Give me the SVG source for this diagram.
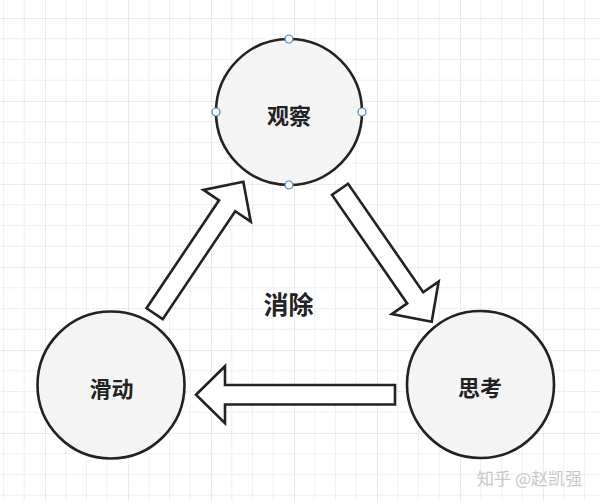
<svg xmlns="http://www.w3.org/2000/svg" width="600" height="501" viewBox="0 0 600 501">
  <style>
    .node circle.body { fill: #f4f4f4; stroke: #222; stroke-width: 2.6; }
    .label { font-family: "Noto Sans CJK SC", "Noto Sans", sans-serif; font-weight: bold; fill: #222; text-anchor: middle; dominant-baseline: central; }
    .arrow { fill: #ffffff; stroke: #222; stroke-width: 2.6; stroke-linejoin: miter; }
    .handle { fill: #ffffff; stroke: #3d85c6; stroke-width: 1.2; }
    .wm { font-family: "Noto Sans CJK SC", "Noto Sans", sans-serif; fill: #c8c8c8; font-size: 17px; text-anchor: end; }
  </style>
  <defs>
    <pattern id="grid" patternUnits="userSpaceOnUse" x="45" y="18" width="83" height="83">
      <rect x="0" y="0" width="83" height="83" fill="#ffffff"/>
      <g fill="#f0f0f0">
        <rect x="20.25" y="0" width="1" height="83"/>
        <rect x="41" y="0" width="1" height="83"/>
        <rect x="61.75" y="0" width="1" height="83"/>
        <rect x="0" y="20.25" width="83" height="1"/>
        <rect x="0" y="41" width="83" height="1"/>
        <rect x="0" y="61.75" width="83" height="1"/>
      </g>
      <g fill="#e3e3e3">
        <rect x="-0.5" y="0" width="1.2" height="83"/>
        <rect x="0" y="-0.5" width="83" height="1.2"/>
      </g>
    </pattern>
  </defs>

  <rect width="600" height="501" fill="url(#grid)"/>

  <g id="connectors">
    <polygon class="arrow" transform="translate(196,394.7)" points="0,0 29,-28.5 29,-9.75 199,-9.75 199,9.75 29,9.75 29,28.5"/>
    <polygon class="arrow" transform="translate(243.3,181.7) rotate(123.9)" points="0,0 29,-28.5 29,-9.75 159,-9.75 159,9.75 29,9.75 29,28.5"/>
    <polygon class="arrow" transform="translate(431.7,321.7) rotate(-124.7)" points="0,0 29,-28.5 29,-9.75 161,-9.75 161,9.75 29,9.75 29,28.5"/>
  </g>

  <g id="node-observe" class="node">
    <circle class="body" cx="289" cy="112" r="73"/>
    <text class="label" x="289" y="114" font-size="22">观察</text>
    <circle class="handle" cx="289" cy="39" r="4"/>
    <circle class="handle" cx="289" cy="185" r="4"/>
    <circle class="handle" cx="216" cy="112" r="4"/>
    <circle class="handle" cx="362" cy="112" r="4"/>
  </g>

  <g id="node-slide" class="node">
    <circle class="body" cx="111" cy="385" r="73.5"/>
    <text class="label" x="111.5" y="387" font-size="22">滑动</text>
  </g>

  <g id="node-think" class="node">
    <circle class="body" cx="480.5" cy="384.5" r="73.5"/>
    <text class="label" x="480" y="386" font-size="22">思考</text>
  </g>

  <g id="node-eliminate" class="node">
    <text class="label" x="288.5" y="303" font-size="25">消除</text>
  </g>

  <text class="wm" x="582" y="485">知乎 @赵凯强</text>
</svg>
